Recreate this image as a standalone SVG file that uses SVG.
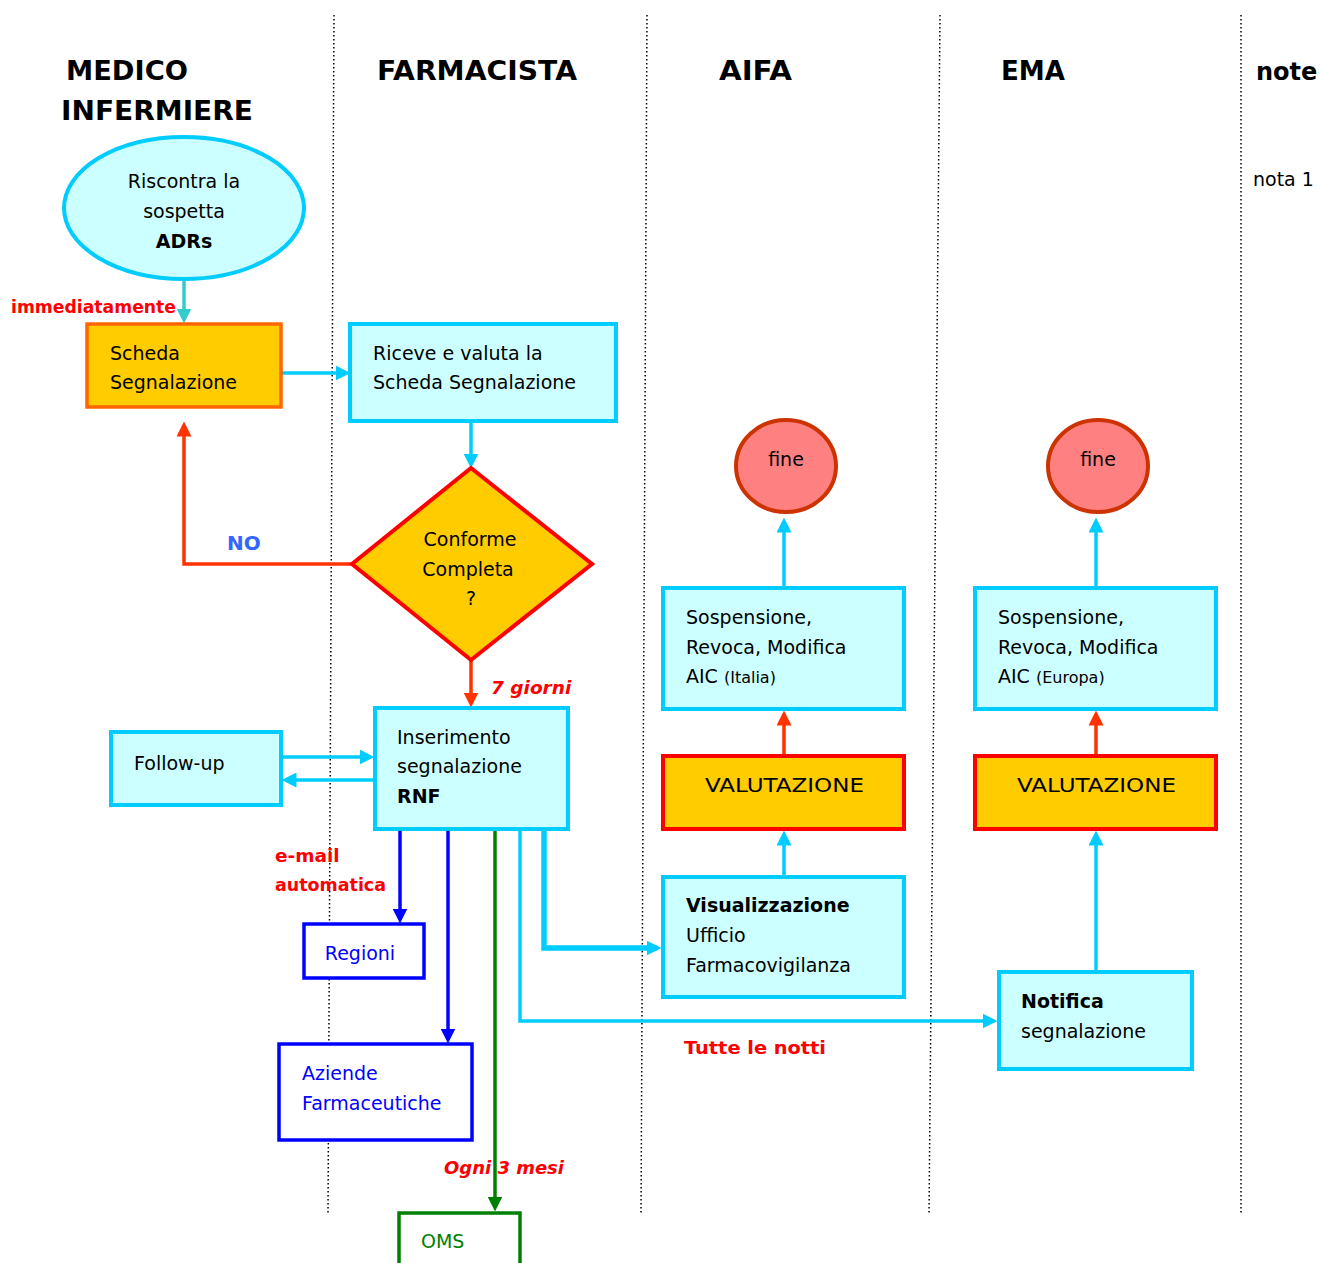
<svg xmlns="http://www.w3.org/2000/svg" width="1320" height="1263" viewBox="0 0 1320 1263">
<style>
text{font-family:"DejaVu Sans",sans-serif;fill:#000}
.h{font-size:27px;font-weight:bold}
.t{font-size:19px}
.b{font-weight:bold}
.sm{font-size:16px}
.red{fill:#FF0000;font-weight:bold;font-size:18.5px}
.lane{stroke:#000;stroke-width:1.5;stroke-dasharray:1.5 2.5;fill:none}
.cy{fill:#CCFFFF;stroke:#00CCFF;stroke-width:4}
.yel{fill:#FFCC00;stroke:#FF0000;stroke-width:4}
.fine{fill:#FF8080;stroke:#CC3300;stroke-width:4}
.blu{fill:#fff;stroke:#0000FF;stroke-width:3.5}
.grn{fill:#fff;stroke:#008000;stroke-width:3.5}
.c{fill:none;stroke-width:3.5}
</style>
<defs>
<marker id="mc" viewBox="0 0 10 10" refX="7" refY="5" markerWidth="15" markerHeight="15" markerUnits="userSpaceOnUse" orient="auto"><path d="M0,0 L10,5 L0,10 z" fill="#00CCFF"/></marker>
<marker id="mt" viewBox="0 0 10 10" refX="7" refY="5" markerWidth="15" markerHeight="15" markerUnits="userSpaceOnUse" orient="auto"><path d="M0,0 L10,5 L0,10 z" fill="#33CCCC"/></marker>
<marker id="mr" viewBox="0 0 10 10" refX="7" refY="5" markerWidth="15" markerHeight="15" markerUnits="userSpaceOnUse" orient="auto"><path d="M0,0 L10,5 L0,10 z" fill="#FF3300"/></marker>
<marker id="mb" viewBox="0 0 10 10" refX="7" refY="5" markerWidth="15" markerHeight="15" markerUnits="userSpaceOnUse" orient="auto"><path d="M0,0 L10,5 L0,10 z" fill="#0000FF"/></marker>
<marker id="mg" viewBox="0 0 10 10" refX="7" refY="5" markerWidth="15" markerHeight="15" markerUnits="userSpaceOnUse" orient="auto"><path d="M0,0 L10,5 L0,10 z" fill="#008000"/></marker>
</defs>
<rect width="1320" height="1263" fill="#fff"/>

<g id="lanes">
<line class="lane" x1="334" y1="15" x2="328" y2="1215"/>
<line class="lane" x1="647" y1="15" x2="641" y2="1215"/>
<line class="lane" x1="940" y1="15" x2="929" y2="1215"/>
<line class="lane" x1="1241" y1="15" x2="1241" y2="1215"/>
</g>

<g id="headers">
<text class="h" x="66" y="80" textLength="122" lengthAdjust="spacingAndGlyphs">MEDICO</text>
<text class="h" x="61" y="120" textLength="192" lengthAdjust="spacingAndGlyphs">INFERMIERE</text>
<text class="h" x="377" y="80" textLength="200" lengthAdjust="spacingAndGlyphs">FARMACISTA</text>
<text class="h" x="719" y="80" textLength="73" lengthAdjust="spacingAndGlyphs">AIFA</text>
<text class="h" x="1001" y="80" textLength="64" lengthAdjust="spacingAndGlyphs">EMA</text>
<text x="1256" y="80" style="font-size:24px;font-weight:bold">note</text>
<text class="t" x="1253" y="186">nota 1</text>
</g>

<g id="connectors">
<line class="c" stroke="#33CCCC" x1="184" y1="281" x2="184" y2="319" marker-end="url(#mt)"/>
<line class="c" stroke="#00CCFF" x1="282" y1="373" x2="346" y2="373" marker-end="url(#mc)"/>
<line class="c" stroke="#00CCFF" x1="471" y1="422" x2="471" y2="464" marker-end="url(#mc)"/>
<polyline class="c" stroke="#FF3300" points="352,564 184,564 184,426" marker-end="url(#mr)"/>
<line class="c" stroke="#FF3300" x1="471" y1="661" x2="471" y2="703" marker-end="url(#mr)"/>
<line class="c" stroke="#00CCFF" x1="282" y1="757" x2="370" y2="757" marker-end="url(#mc)"/>
<line class="c" stroke="#00CCFF" x1="374" y1="780" x2="286" y2="780" marker-end="url(#mc)"/>
<line class="c" stroke="#0000FF" x1="400" y1="830" x2="400" y2="919" marker-end="url(#mb)"/>
<line class="c" stroke="#0000FF" x1="448" y1="830" x2="448" y2="1039" marker-end="url(#mb)"/>
<line class="c" stroke="#008000" x1="495" y1="830" x2="495" y2="1207" marker-end="url(#mg)"/>
<polyline class="c" stroke="#00CCFF" points="520,830 520,1021 993,1021" marker-end="url(#mc)"/>
<polyline class="c" stroke="#00CCFF" style="stroke-width:5.5" points="544,830 544,948 657,948" marker-end="url(#mc)"/>
<line class="c" stroke="#00CCFF" x1="784" y1="876" x2="784" y2="835" marker-end="url(#mc)"/>
<line class="c" stroke="#FF3300" x1="784" y1="755" x2="784" y2="715" marker-end="url(#mr)"/>
<line class="c" stroke="#00CCFF" x1="784" y1="587" x2="784" y2="522" marker-end="url(#mc)"/>
<line class="c" stroke="#00CCFF" x1="1096" y1="971" x2="1096" y2="835" marker-end="url(#mc)"/>
<line class="c" stroke="#FF3300" x1="1096" y1="755" x2="1096" y2="715" marker-end="url(#mr)"/>
<line class="c" stroke="#00CCFF" x1="1096" y1="587" x2="1096" y2="522" marker-end="url(#mc)"/>
</g>

<g id="labels">
<text class="red" x="11" y="313" textLength="165" lengthAdjust="spacingAndGlyphs">immediatamente</text>
<text x="227" y="550" style="fill:#3366FF;font-weight:bold;font-size:20px">NO</text>
<text class="red" x="491" y="694" font-style="italic">7 giorni</text>
<text class="red" x="275" y="862">e-mail</text>
<text class="red" x="275" y="891" textLength="111" lengthAdjust="spacingAndGlyphs">automatica</text>
<text class="red" x="444" y="1174" font-style="italic" textLength="120" lengthAdjust="spacingAndGlyphs">Ogni 3 mesi</text>
<text class="red" x="684" y="1054" textLength="142" lengthAdjust="spacingAndGlyphs">Tutte le notti</text>
</g>

<g id="n-adr">
<ellipse class="cy" cx="184" cy="208" rx="120" ry="71"/>
<text class="t" x="184" y="188" text-anchor="middle">Riscontra la</text>
<text class="t" x="184" y="218" text-anchor="middle">sospetta</text>
<text class="t b" x="184" y="248" text-anchor="middle">ADRs</text>
</g>

<g id="n-scheda">
<rect x="87" y="324" width="194" height="83" fill="#FFCC00" stroke="#FF6600" stroke-width="3.5"/>
<text class="t" x="110" y="360">Scheda</text>
<text class="t" x="110" y="389">Segnalazione</text>
</g>

<g id="n-riceve">
<rect class="cy" x="350" y="324" width="266" height="97"/>
<text class="t" x="373" y="360">Riceve e valuta la</text>
<text class="t" x="373" y="389">Scheda Segnalazione</text>
</g>

<g id="n-conforme">
<polygon class="yel" points="471,468 592,564 471,660 352,564"/>
<text class="t" x="470" y="546" text-anchor="middle">Conforme</text>
<text class="t" x="468" y="576" text-anchor="middle">Completa</text>
<text class="t" x="471" y="605" text-anchor="middle">?</text>
</g>

<g id="n-inserimento">
<rect class="cy" x="375" y="708" width="193" height="121"/>
<text class="t" x="397" y="744">Inserimento</text>
<text class="t" x="397" y="773">segnalazione</text>
<text class="t b" x="397" y="803">RNF</text>
</g>

<g id="n-followup">
<rect class="cy" x="111" y="732" width="170" height="73"/>
<text class="t" x="134" y="770">Follow-up</text>
</g>

<g id="n-regioni">
<rect class="blu" x="304" y="924" width="120" height="54"/>
<text class="t" x="360" y="960" text-anchor="middle" style="fill:#0000FF">Regioni</text>
</g>

<g id="n-aziende">
<rect class="blu" x="279" y="1044" width="193" height="96"/>
<text class="t" x="302" y="1080" style="fill:#0000FF">Aziende</text>
<text class="t" x="302" y="1110" style="fill:#0000FF">Farmaceutiche</text>
</g>

<g id="n-oms">
<rect class="grn" x="399" y="1213" width="121" height="60"/>
<text class="t" x="421" y="1248" style="fill:#008000">OMS</text>
</g>

<g id="n-fine-aifa">
<ellipse class="fine" cx="786" cy="466" rx="50" ry="46"/>
<text class="t" x="786" y="466" text-anchor="middle">fine</text>
</g>

<g id="n-sosp-aifa">
<rect class="cy" x="663" y="588" width="241" height="121"/>
<text class="t" x="686" y="624">Sospensione,</text>
<text class="t" x="686" y="654">Revoca, Modifica</text>
<text class="t" x="686" y="683">AIC  <tspan class="sm">(Italia)</tspan></text>
</g>

<g id="n-val-aifa">
<rect class="yel" x="663" y="756" width="241" height="73"/>
<text class="t" x="705" y="792" textLength="159" lengthAdjust="spacingAndGlyphs">VALUTAZIONE</text>
</g>

<g id="n-visual">
<rect class="cy" x="663" y="877" width="241" height="120"/>
<text class="t b" x="686" y="912">Visualizzazione</text>
<text class="t" x="686" y="942">Ufficio</text>
<text class="t" x="686" y="972">Farmacovigilanza</text>
</g>

<g id="n-fine-ema">
<ellipse class="fine" cx="1098" cy="466" rx="50" ry="46"/>
<text class="t" x="1098" y="466" text-anchor="middle">fine</text>
</g>

<g id="n-sosp-ema">
<rect class="cy" x="975" y="588" width="241" height="121"/>
<text class="t" x="998" y="624">Sospensione,</text>
<text class="t" x="998" y="654">Revoca, Modifica</text>
<text class="t" x="998" y="683">AIC <tspan class="sm">(Europa)</tspan></text>
</g>

<g id="n-val-ema">
<rect class="yel" x="975" y="756" width="241" height="73"/>
<text class="t" x="1017" y="792" textLength="159" lengthAdjust="spacingAndGlyphs">VALUTAZIONE</text>
</g>

<g id="n-notifica">
<rect class="cy" x="999" y="972" width="193" height="97"/>
<text class="t b" x="1021" y="1008">Notifica</text>
<text class="t" x="1021" y="1038">segnalazione</text>
</g>
</svg>
